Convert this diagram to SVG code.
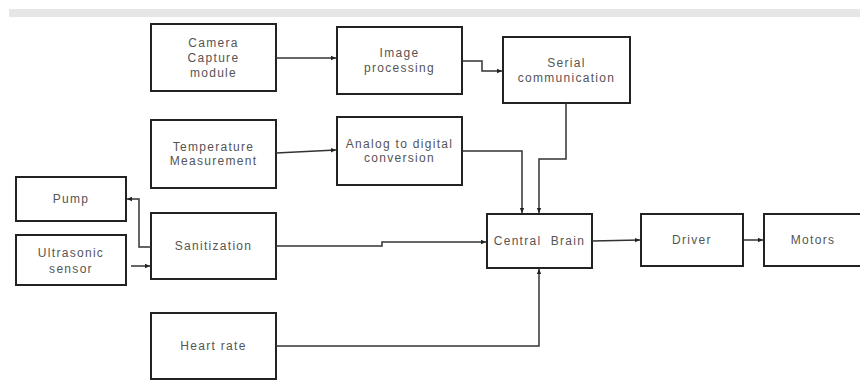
<svg xmlns="http://www.w3.org/2000/svg" width="860" height="392" viewBox="0 0 860 392">
<style>
.box{fill:#fff;stroke:#222;stroke-width:2}
.t{font-family:"Liberation Sans",Arial,sans-serif;font-size:12px;letter-spacing:1.3px;fill:#555;text-anchor:middle}
.c{fill:none;stroke:#333;stroke-width:1.5}
</style>
<defs>
<marker id="a" markerUnits="userSpaceOnUse" markerWidth="6" markerHeight="6" refX="5" refY="3" orient="auto">
<path d="M0,0.8 L5,3 L0,5.2 Z" fill="#222"/>
</marker>
</defs>
<rect x="9" y="9" width="851" height="8" fill="#e6e6e6"/>
<g id="camera"><rect class="box" x="151" y="24" width="125" height="67"/><text class="t" x="213.5" y="47">Camera</text><text class="t" x="213.5" y="62">Capture</text><text class="t" x="213.5" y="77">module</text></g>
<g id="image"><rect class="box" x="337" y="27" width="125" height="67"/><text class="t" x="399.5" y="57">Image</text><text class="t" x="399.5" y="72">processing</text></g>
<g id="serial"><rect class="box" x="503" y="37" width="127" height="66"/><text class="t" x="566.5" y="67">Serial</text><text class="t" x="566.5" y="82">communication</text></g>
<g id="temperature"><rect class="box" x="151" y="120" width="125" height="68"/><text class="t" x="213.5" y="151">Temperature</text><text class="t" x="213.5" y="165">Measurement</text></g>
<g id="analog"><rect class="box" x="337" y="117" width="125" height="68"/><text class="t" x="399.5" y="148">Analog to digital</text><text class="t" x="399.5" y="162">conversion</text></g>
<g id="pump"><rect class="box" x="16" y="177" width="110" height="44"/><text class="t" x="71" y="203">Pump</text></g>
<g id="ultrasonic"><rect class="box" x="16" y="235" width="110" height="50"/><text class="t" x="71" y="257">Ultrasonic</text><text class="t" x="71" y="273">sensor</text></g>
<g id="sanitization"><rect class="box" x="151" y="213" width="125" height="66"/><text class="t" x="213.5" y="250">Sanitization</text></g>
<g id="heart"><rect class="box" x="151" y="313" width="125" height="66"/><text class="t" x="213.5" y="350">Heart rate</text></g>
<g id="central"><rect class="box" x="487" y="214" width="105" height="54"/><text class="t" x="539.5" y="245" xml:space="preserve">Central  Brain</text></g>
<g id="driver"><rect class="box" x="641" y="214" width="102" height="52"/><text class="t" x="692" y="244">Driver</text></g>
<g id="motors"><rect class="box" x="764" y="214" width="110" height="52"/><text class="t" x="813" y="244">Motors</text></g>
<g id="connectors">
<path class="c" d="M276,58 H336" marker-end="url(#a)"/>
<path class="c" d="M462,61 H482 V71 H502" marker-end="url(#a)"/>
<path class="c" d="M566,103 V159 H539 V213" marker-end="url(#a)"/>
<path class="c" d="M276,153 L336,150" marker-end="url(#a)"/>
<path class="c" d="M462,151 H522 V213" marker-end="url(#a)"/>
<path class="c" d="M151,247 H139 V199 H127" marker-end="url(#a)"/>
<path class="c" d="M131,266 H150" marker-end="url(#a)"/>
<path class="c" d="M276,246 H382 V242 H486" marker-end="url(#a)"/>
<path class="c" d="M276,346 H539 V269" marker-end="url(#a)"/>
<path class="c" d="M592,241 L640,240" marker-end="url(#a)"/>
<path class="c" d="M743,240 H763" marker-end="url(#a)"/>
</g>
</svg>
